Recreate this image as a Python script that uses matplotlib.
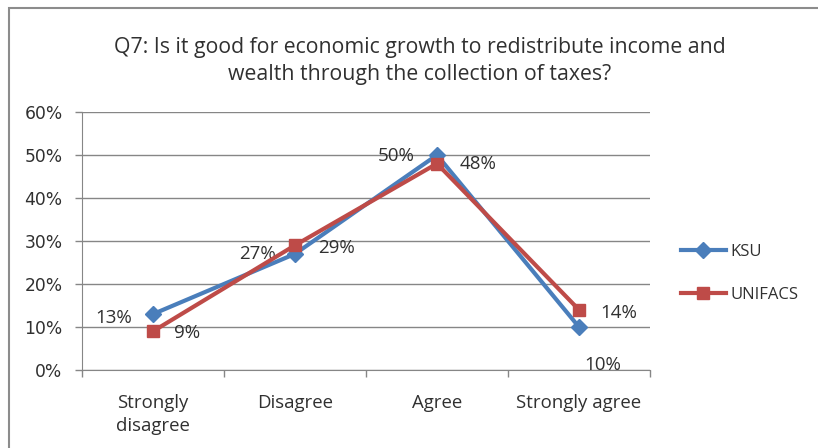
import matplotlib
matplotlib.use("Agg")
import matplotlib.pyplot as plt
from matplotlib.patches import Rectangle
from matplotlib.ticker import FuncFormatter

categories = ["Strongly\ndisagree", "Disagree", "Agree", "Strongly agree"]
ksu = [13, 27, 50, 10]
unifacs = [9, 29, 48, 14]
yticks = [0, 10, 20, 30, 40, 50, 60]

plt.rcParams['font.family'] = ['Open Sans', 'DejaVu Sans']

fig = plt.figure(figsize=(8.18, 4.48), dpi=100)
ax = fig.add_axes([0.1002, 0.1741, 0.6944, 0.5759])

blue = "#4a7ebb"
red = "#be4b48"
grid_gray = "#868686"
text_col = "#303030"
x = range(len(categories))

ax.plot(x, ksu, color=blue, lw=3, marker="D", ms=8, label="KSU", zorder=3)
ax.plot(x, unifacs, color=red, lw=3, marker="s", ms=9, label="UNIFACS", zorder=4)

# value labels: (dx, dy in points, horizontal alignment)
fs_lab = 13.5
lab_ksu = [(-15, -3, "right"), (-14, 0, "right"), (-16, -1, "right"), (4, -27, "left")]
lab_uni = [(15, -1, "left"), (17, -2, "left"), (16, 0, "left"), (15, -2, "left")]
for vals, offs in ((ksu, lab_ksu), (unifacs, lab_uni)):
    for i, v in enumerate(vals):
        dx, dy, ha = offs[i]
        ax.annotate(f"{v}%", (i, v), xytext=(dx, dy), textcoords="offset points",
                    ha=ha, va="center", fontsize=fs_lab, color=text_col)

ax.set_xlim(-0.5, len(categories) - 0.5)
ax.set_ylim(0, 60)
ax.set_yticks(yticks)
ax.yaxis.set_major_formatter(FuncFormatter(lambda v, p: f"{int(v)}%"))
for lbl in ax.get_yticklabels():
    lbl.set_family("DejaVu Sans")
ax.tick_params(axis="y", length=5, width=1, color=grid_gray, labelsize=12.3,
               labelcolor=text_col, pad=9)
ax.grid(axis="y", color=grid_gray, lw=1)
ax.set_axisbelow(True)

ax.set_xticks([i - 0.5 for i in range(len(categories) + 1)])
ax.set_xticklabels([])
ax.set_xticks(list(x), minor=True)
ax.set_xticklabels(categories, minor=True, fontsize=13.4, color=text_col, linespacing=1.35)
ax.tick_params(axis="x", which="major", length=5, width=1, color=grid_gray, direction="out")
ax.tick_params(axis="x", which="minor", length=0, pad=17)

for s in ["top", "right"]:
    ax.spines[s].set_visible(False)
for s in ["left", "bottom"]:
    ax.spines[s].set_color(grid_gray)

fig.text(0.513, 0.864,
         "Q7: Is it good for economic growth to redistribute income and\n"
         "wealth through the collection of taxes?",
         ha="center", va="center", fontsize=15.3, color=text_col, linespacing=1.38)

leg = fig.legend(loc="center left", bbox_to_anchor=(0.814, 0.39), frameon=False,
                 fontsize=12, handlelength=2.7, labelspacing=1.65, handletextpad=0.25)
for t in leg.get_texts():
    t.set_color(text_col)

# chart frame
fig.patches.append(Rectangle((8.5 / 818, -0.1), 1.2, 1 - 8.5 / 448 + 0.1,
                             transform=fig.transFigure, fill=False,
                             ec="#8c8c8c", lw=1.5))

fig.savefig("out.png", dpi=100)
